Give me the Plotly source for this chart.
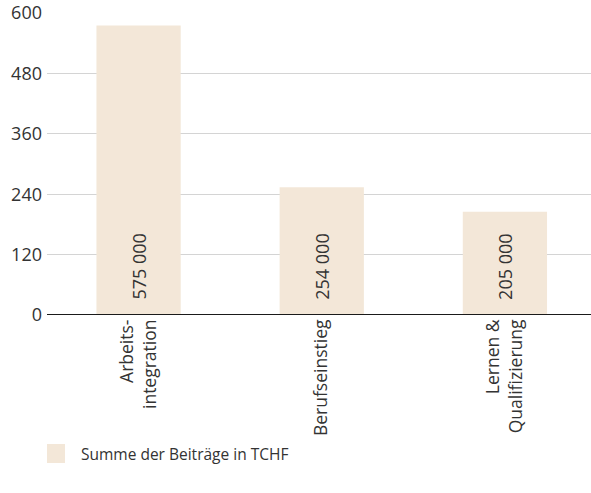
import plotly.graph_objects as go

categories = ["Arbeits-<br>integration", "Berufseinstieg", "Lernen &<br>Qualifizierung"]
values = [575, 254, 205]
labels = ["575 000", "254 000", "205 000"]
y_ticks = [0, 120, 240, 360, 480, 600]
series_name = "Summe der Beiträge in TCHF"

FONT = "Open Sans"
TXT = "#333333"
BAR = "#F3E7D8"

fig = go.Figure()
fig.add_trace(go.Bar(
    x=categories, y=values, name=series_name,
    marker=dict(color=BAR, line=dict(width=0)),
    width=0.46,
    showlegend=False,
    hoverinfo="x+y",
))

# value labels inside bars, near base
for c, lab in zip(categories, labels):
    fig.add_annotation(x=c, y=0, xref="x", yref="y", text=lab, showarrow=False,
                       textangle=-90, yanchor="bottom", xanchor="center",
                       yshift=13, font=dict(family=FONT, size=18, color=TXT))

# legend (square + text)
fig.add_shape(type="rect", xref="paper", yref="paper",
              x0=0, x1=18/544, y0=-(444-315)/302, y1=-(463-315)/302,
              fillcolor=BAR, line=dict(width=0))
fig.add_annotation(xref="paper", yref="paper", x=(79-47)/544, y=-(454-315)/302,
                   xanchor="left", yanchor="middle", showarrow=False,
                   text=series_name, font=dict(family=FONT, size=15.5, color=TXT))

fig.update_layout(
    width=591, height=493,
    margin=dict(l=47, r=0, t=13, b=178, autoexpand=False),
    paper_bgcolor="white", plot_bgcolor="white",
    font=dict(family=FONT, size=16, color=TXT),
    showlegend=False,
    xaxis=dict(range=[-0.5, 2.47], tickangle=-90, showgrid=False,
               showline=False, zeroline=False, ticks="", automargin=False,
               tickfont=dict(family=FONT, size=17.5, color=TXT)),
    yaxis=dict(range=[0, 600], tickvals=y_ticks, showgrid=True,
               gridcolor="#d4d4d4", gridwidth=1, zeroline=False,
               showline=False, ticks="", ticklabelstandoff=4, automargin=False,
               tickfont=dict(family=FONT, size=18, color=TXT)),
)
fig.add_shape(type="line", xref="paper", yref="y", x0=0, x1=1, y0=0, y1=0,
              line=dict(color="#1a1a1a", width=2))

# remove the default page margin so the figure fills the window exactly
fig.write_html("out.html",
               config={"displayModeBar": False},
               post_script="document.body.style.margin='0';document.body.style.overflow='hidden';")
